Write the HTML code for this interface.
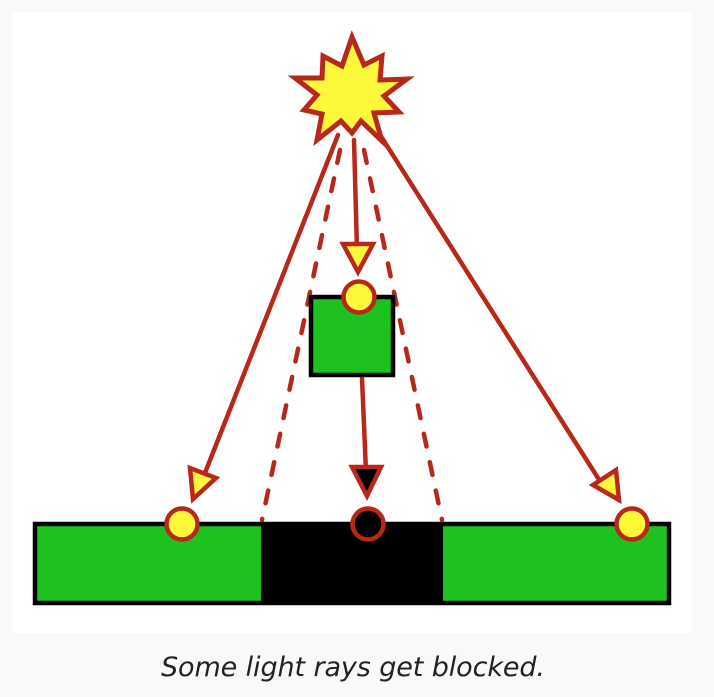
<!DOCTYPE html>
<html><head><meta charset="utf-8"><style>
body{margin:0;background:#f9f9f9;width:714px;height:692px;overflow:hidden}
</style></head><body>
<svg width="714" height="692" viewBox="0 0 714 692">
<rect x="12" y="12" width="680" height="621" fill="#fff"/>
<g stroke="#b8281a" stroke-width="4.5" stroke-linecap="round" fill="none">
<line x1="340" y1="150" x2="262" y2="520" stroke-dasharray="13 16"/>
<line x1="364" y1="150" x2="442" y2="520" stroke-dasharray="13 16"/>
<line x1="338" y1="135" x2="203" y2="478"/>
<line x1="382" y1="138" x2="598" y2="478"/>
<line x1="354" y1="140" x2="357" y2="250"/>
<line x1="362" y1="378" x2="366" y2="472"/>
</g>
<polygon fill="#fdf93a" stroke="#b8281a" stroke-width="5" stroke-linejoin="miter"
 points="352,37 364,65 382,56 380,80 407,79 384,96 399,112 374,113 382,141 361,121 352,133 341,121 317,140 322,114 304,110 317,95 295,78 322,78 323,56 342,66"/>
<rect x="35" y="524" width="634" height="79" fill="#1ec21e" stroke="#000" stroke-width="4.5"/>
<rect x="261" y="522" width="182" height="83" fill="#000"/>
<rect x="311" y="297" width="82" height="78" fill="#1ec21e" stroke="#000" stroke-width="4.5"/>
<g stroke="#b8281a" stroke-width="4.5" stroke-linejoin="miter">
<polygon points="193,499 190,468 216,478" fill="#fdf93a"/>
<polygon points="619,500 593,485 616,470" fill="#fdf93a"/>
<polygon points="358,272 343,244 373,244" fill="#fdf93a"/>
<polygon points="367,496 352,467 381,467" fill="#000"/>
<circle cx="182" cy="524" r="15.5" fill="#fdf93a"/>
<circle cx="632" cy="524" r="15.5" fill="#fdf93a"/>
<circle cx="359" cy="297" r="15.5" fill="#fdf93a"/>
<circle cx="368" cy="524" r="15.5" fill="#000"/>
</g>
<text x="353" y="676" text-anchor="middle" textLength="384" font-family="'DejaVu Sans','Liberation Sans',sans-serif" font-style="italic" font-size="27" fill="#222">Some light rays get blocked.</text>
</svg>
</body></html>
